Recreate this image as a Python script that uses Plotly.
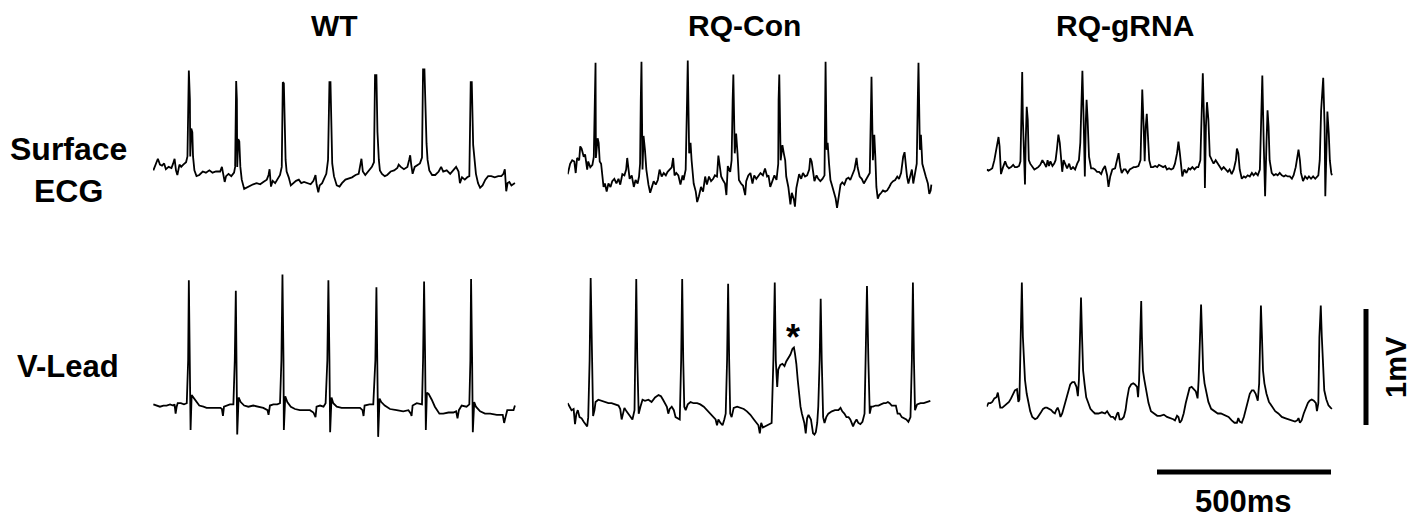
import plotly.graph_objects as go

# ---------------- data: (time ms, voltage mV) ----------------
WT_SURFACE = [
    (1,0.04),(9,0.10),(14,0.14),(20,0.09),(26,0.08),(32,0.10),(37,0.05),(45,0.07),(53,0.06),(58,0.10),
    (62,0.14),(66,0.04),(70,0.00),(76,0.09),(81,0.07),(87,0.09),(95,0.11),(99,0.16),(102,0.70),(103,0.90),
    (106,0.65),(107,0.16),(110,0.40),(113,0.37),(115,0.16),(119,0.04),(125,-0.01),(133,0.00),(143,0.03),(152,0.02),
    (162,0.04),(171,0.02),(181,0.03),(193,0.03),(198,0.07),(202,0.00),(206,-0.06),(210,-0.01),(217,0.01),(225,-0.01),
    (233,0.02),(236,0.07),(239,0.81),(241,0.65),(242,0.07),(245,0.31),(248,0.29),(251,0.07),(255,-0.04),(262,-0.12),
    (269,-0.11),(279,-0.09),(288,-0.08),(298,-0.07),(308,-0.08),(317,-0.06),(327,-0.04),(332,0.00),(335,0.05),(339,-0.10),
    (344,-0.05),(351,-0.07),(357,-0.04),(365,0.00),(370,0.07),(373,0.80),(376,0.79),(378,0.33),(381,0.13),(384,0.03),
    (390,-0.02),(396,-0.09),(403,-0.07),(411,-0.05),(419,-0.04),(426,-0.07),(434,-0.06),(444,-0.07),(453,-0.08),(461,-0.05),
    (467,0.00),(470,-0.08),(475,-0.15),(479,-0.09),(486,-0.07),(492,-0.03),(498,0.01),(503,0.13),(507,0.80),(510,0.80),
    (513,0.30),(515,0.10),(520,-0.01),(528,-0.09),(536,-0.10),(543,-0.07),(553,-0.04),(562,-0.03),(572,-0.02),(582,0.00),
    (591,0.01),(599,0.14),(603,0.03),(610,0.00),(620,0.04),(629,0.07),(635,0.11),(638,0.86),(642,0.86),(645,0.37),
    (649,0.13),(652,0.04),(658,0.01),(666,-0.01),(673,0.00),(683,0.03),(693,0.04),(702,0.06),(706,0.09),(712,0.07),
    (721,0.05),(731,0.07),(736,0.13),(739,0.17),(742,0.09),(746,0.01),(752,0.07),(760,0.09),(767,0.10),(773,0.15),
    (776,0.91),(780,0.91),(783,0.42),(786,0.27),(789,0.13),(794,0.04),(802,0.00),(811,0.00),(821,0.03),(828,0.07),
    (834,0.03),(844,0.04),(854,0.01),(863,0.04),(871,0.07),(878,0.03),(882,-0.07),(888,-0.02),(896,-0.04),(903,-0.02),
    (909,-0.01),(913,0.80),(916,0.80),(920,0.26),(924,0.13),(928,0.01),(934,-0.07),(940,-0.11),(947,-0.09),(955,-0.04),
    (963,-0.01),(972,-0.01),(982,-0.02),(992,-0.01),(1001,-0.01),(1007,0.01),(1011,0.05),(1015,-0.14),(1019,-0.07),(1024,-0.06),
    (1030,-0.09),(1036,-0.08),(1040,-0.07),
]

WT_VLEAD = [
    (1,0.02),(11,0.01),(20,0.00),(30,0.01),(39,0.01),(49,0.02),(58,0.01),(62,0.02),(65,-0.06),(68,0.00),
    (71,0.03),(80,0.03),(89,0.02),(97,0.03),(101,0.40),(103,1.09),(106,0.40),(108,-0.20),(111,0.10),(116,0.08),
    (124,0.04),(133,0.01),(145,0.00),(154,-0.01),(164,-0.01),(173,-0.01),(185,-0.01),(194,-0.01),(198,-0.02),(201,-0.08),
    (204,0.00),(212,0.01),(221,0.02),(231,0.02),(235,0.40),(238,1.00),(240,0.40),(242,-0.24),(246,0.08),(252,0.04),
    (262,0.01),(274,0.00),(288,0.01),(303,0.00),(317,-0.01),(329,-0.03),(332,-0.07),(336,0.01),(346,0.02),(357,0.02),
    (365,0.03),(369,0.40),(372,1.14),(375,0.40),(376,-0.20),(380,0.09),(386,0.04),(396,0.00),(408,-0.02),(422,-0.03),
    (437,-0.03),(451,-0.03),(461,-0.05),(467,-0.09),(470,0.00),(480,0.01),(490,0.00),(496,0.03),(501,0.40),(504,1.09),
    (507,0.40),(509,-0.22),(513,0.08),(518,0.03),(528,0.00),(542,-0.01),(557,-0.01),(576,-0.01),(595,-0.01),(602,-0.03),
    (605,-0.08),(608,0.01),(622,0.02),(633,0.02),(639,0.40),(642,1.03),(645,0.40),(647,-0.26),(651,0.07),(656,0.04),
    (666,0.01),(681,-0.02),(700,-0.03),(719,-0.04),(734,-0.03),(741,-0.06),(743,-0.08),(746,0.01),(758,0.03),(773,0.02),
    (776,0.40),(779,1.08),(782,0.40),(784,-0.20),(787,0.12),(792,0.11),(801,0.06),(810,0.00),(823,-0.06),(834,-0.06),
    (849,-0.05),(863,-0.05),(871,-0.04),(875,-0.10),(879,-0.03),(887,0.01),(901,0.00),(909,0.02),(912,0.40),(914,1.10),
    (917,0.40),(919,-0.22),(923,0.04),(928,0.00),(940,-0.04),(954,-0.06),(969,-0.06),(988,-0.07),(1005,-0.07),(1009,-0.14),
    (1013,-0.09),(1018,-0.03),(1028,-0.03),(1036,-0.03),(1040,0.01),
]

RQCON_SURFACE = [
    (0,0.05),(7,0.14),(13,0.17),(19,0.16),(23,0.06),(27,0.19),(33,0.17),(36,0.29),(40,0.27),(46,0.20),
    (50,0.22),(56,0.09),(59,0.16),(65,0.11),(71,0.13),(75,0.20),(78,0.69),(80,1.01),(81,0.19),(86,0.36),
    (89,0.32),(92,0.16),(96,0.14),(100,0.04),(103,-0.06),(107,-0.03),(112,-0.10),(117,-0.03),(123,-0.06),(128,-0.01),
    (134,0.01),(140,-0.03),(146,0.01),(151,-0.04),(157,0.05),(163,0.04),(168,0.09),(171,0.19),(174,0.09),(178,0.01),
    (184,0.04),(190,-0.06),(195,0.00),(201,-0.03),(205,0.03),(208,0.14),(210,0.69),(212,1.02),(215,0.09),(218,0.38),
    (222,0.26),(226,0.09),(232,-0.04),(237,-0.11),(241,-0.07),(247,-0.01),(253,-0.04),(259,0.00),(264,0.09),(270,0.03),
    (276,0.06),(282,0.04),(287,0.07),(293,0.09),(299,0.11),(303,0.19),(307,0.04),(312,0.06),(318,0.04),(324,-0.04),
    (330,0.04),(333,0.00),(339,0.09),(343,0.69),(345,1.03),(349,0.23),(353,0.32),(356,0.17),(362,-0.03),(368,-0.10),
    (372,-0.19),(377,-0.14),(383,-0.06),(389,-0.10),(395,0.03),(400,-0.04),(406,0.03),(412,-0.01),(418,0.01),(423,0.04),
    (429,0.03),(433,0.21),(437,0.13),(441,0.03),(446,0.00),(452,-0.03),(456,-0.13),(460,0.12),(467,0.07),(471,0.17),
    (474,0.69),(476,0.91),(480,0.23),(484,0.40),(488,0.23),(492,0.00),(498,-0.03),(504,-0.05),(510,-0.13),(513,-0.01),
    (519,0.04),(525,0.06),(531,-0.03),(536,0.04),(542,0.01),(548,0.04),(554,0.06),(561,0.04),(567,0.10),(573,0.03),
    (577,0.04),(582,-0.06),(588,-0.01),(594,0.04),(600,0.00),(605,0.14),(606,0.69),(608,0.91),(612,0.17),(617,0.30),
    (621,0.23),(625,0.17),(628,0.03),(634,-0.06),(640,-0.21),(644,-0.11),(650,-0.17),(653,-0.23),(657,-0.07),(661,0.00),
    (665,0.05),(671,0.01),(676,0.06),(682,0.03),(688,0.04),(694,0.09),(697,0.19),(701,0.16),(705,0.06),(709,-0.01),
    (715,0.04),(720,0.01),(726,-0.01),(732,0.01),(738,0.04),(739,0.69),(741,1.02),(744,0.26),(747,0.32),(751,0.14),
    (755,0.00),(759,-0.04),(764,-0.09),(770,-0.16),(774,-0.24),(778,-0.17),(784,-0.04),(789,-0.02),(795,-0.04),(801,0.01),
    (807,0.02),(812,0.00),(818,0.04),(824,0.09),(830,0.19),(833,0.11),(839,0.03),(845,0.01),(851,-0.03),(856,0.00),
    (862,0.03),(868,0.06),(871,0.55),(873,0.89),(877,0.17),(881,0.39),(884,0.20),(887,-0.06),(891,-0.16),(895,-0.13),
    (901,-0.11),(906,-0.09),(912,-0.10),(918,-0.09),(924,-0.06),(929,-0.03),(935,-0.01),(941,0.00),(947,0.03),(952,0.01),
    (958,0.06),(964,0.20),(968,0.24),(971,0.13),(975,0.03),(979,-0.03),(985,0.06),(989,0.09),(993,-0.03),(998,0.06),
    (1003,0.14),(1006,0.69),(1008,1.01),(1012,0.26),(1015,0.39),(1019,0.14),(1023,0.09),(1029,0.03),(1035,-0.03),(1039,-0.12),
    (1043,-0.09),(1045,-0.04),
]

RQCON_VLEAD = [
    (0,0.03),(6,-0.01),(11,-0.03),(17,-0.02),(21,-0.15),(25,-0.06),(29,-0.03),(34,-0.09),(40,-0.10),(46,-0.13),
    (52,-0.15),(56,-0.17),(59,-0.09),(63,0.40),(66,1.11),(69,0.40),(73,-0.08),(77,-0.03),(80,0.04),(88,0.06),
    (98,0.05),(107,0.04),(117,0.03),(126,0.03),(136,0.02),(146,0.01),(151,-0.02),(155,-0.11),(159,-0.06),(163,-0.01),
    (169,-0.04),(174,-0.06),(180,-0.09),(186,-0.11),(192,-0.03),(194,0.40),(197,1.10),(200,0.40),(204,-0.06),(209,0.00),
    (215,0.06),(222,0.05),(232,0.06),(241,0.04),(251,0.08),(261,0.10),(268,0.09),(274,0.06),(280,0.03),(285,0.00),
    (289,-0.06),(293,-0.02),(299,0.00),(305,-0.03),(310,-0.09),(316,-0.10),(322,-0.11),(326,0.40),(329,1.10),(332,0.40),
    (335,0.00),(339,-0.03),(345,0.02),(353,0.04),(362,0.03),(372,0.03),(381,0.02),(391,0.00),(400,-0.03),(410,-0.06),
    (420,-0.09),(425,-0.11),(429,-0.16),(433,-0.11),(439,-0.14),(445,-0.16),(450,-0.11),(454,-0.06),(458,0.40),(461,1.06),
    (464,0.40),(467,-0.06),(471,-0.09),(477,-0.01),(487,0.00),(496,-0.01),(506,-0.02),(515,-0.04),(525,-0.07),(535,-0.11),
    (542,-0.14),(548,-0.16),(552,-0.23),(556,-0.14),(561,-0.18),(567,-0.17),(577,-0.16),(586,-0.14),(591,0.40),(595,1.07),
    (598,0.40),(602,0.17),(605,0.32),(611,0.36),(617,0.37),(623,0.35),(628,0.39),(634,0.42),(640,0.45),(646,0.50),
    (650,0.51),(653,0.46),(657,0.37),(661,0.23),(665,0.11),(669,0.00),(673,-0.06),(676,-0.09),(680,-0.14),(684,-0.23),
    (688,-0.10),(692,-0.07),(696,-0.09),(699,-0.11),(702,-0.17),(705,-0.23),(709,-0.24),(713,-0.22),(717,-0.14),(720,0.00),
    (724,0.40),(727,0.93),(730,0.40),(734,-0.09),(738,-0.14),(743,-0.09),(749,-0.06),(759,-0.04),(768,-0.03),(778,-0.03),
    (784,-0.01),(789,-0.04),(795,-0.06),(801,-0.09),(807,-0.09),(812,-0.11),(816,-0.14),(820,-0.17),(824,-0.14),(830,-0.11),
    (835,-0.14),(841,-0.15),(847,-0.13),(853,-0.06),(856,0.40),(860,1.04),(864,0.40),(868,-0.06),(872,0.00),(877,0.00),
    (885,0.01),(893,0.01),(900,0.02),(908,0.03),(914,0.03),(920,0.04),(925,0.03),(931,0.01),(937,0.01),(943,0.01),
    (948,-0.06),(954,-0.06),(960,-0.09),(966,-0.10),(973,-0.11),(979,-0.13),(985,-0.09),(989,0.40),(992,1.07),(995,0.40),
    (998,-0.03),(1004,0.02),(1014,0.03),(1023,0.03),(1035,0.04),(1042,0.05),
]

RQGRNA_SURFACE = [
    (0,-0.01),(5,-0.02),(11,-0.01),(16,0.00),(22,0.07),(28,0.19),(34,0.27),(37,0.19),(41,-0.05),(47,0.01),
    (53,0.06),(58,0.02),(64,0.00),(70,0.01),(76,0.03),(81,0.01),(87,0.01),(93,0.02),(97,0.06),(100,0.50),
    (102,0.83),(104,0.42),(107,0.07),(110,-0.14),(112,0.22),(115,0.53),(118,0.42),(121,0.07),(125,0.04),(131,0.01),
    (137,-0.01),(143,0.00),(148,0.01),(154,0.03),(160,0.07),(166,0.04),(171,0.01),(175,0.07),(179,0.02),(183,0.06),
    (189,0.02),(194,0.04),(198,0.07),(202,0.17),(206,0.29),(210,0.22),(214,0.07),(217,-0.03),(221,0.07),(225,0.04),
    (231,0.00),(237,0.04),(242,-0.01),(248,0.01),(254,-0.01),(260,0.04),(265,0.07),(269,0.22),(272,0.65),(275,0.84),
    (279,0.36),(282,-0.07),(285,0.42),(287,0.59),(290,0.42),(294,0.10),(300,0.00),(306,0.00),(311,-0.01),(317,-0.03),
    (323,-0.03),(329,-0.05),(334,-0.01),(340,0.02),(346,-0.06),(350,-0.16),(355,-0.07),(361,-0.01),(369,0.00),(375,0.07),
    (379,0.13),(384,0.01),(388,-0.04),(394,-0.01),(399,-0.01),(405,-0.04),(411,-0.01),(417,0.00),(422,0.01),(428,0.01),
    (436,0.02),(442,0.07),(445,0.36),(447,0.68),(451,0.36),(454,0.06),(457,0.36),(460,0.47),(463,0.30),(467,0.07),
    (472,0.01),(478,0.01),(484,0.02),(490,0.01),(495,0.03),(501,0.02),(507,0.01),(513,0.02),(518,-0.01),(524,0.00),
    (530,-0.01),(536,0.00),(541,0.04),(547,0.13),(551,0.23),(555,0.13),(559,0.01),(562,-0.07),(568,-0.01),(574,-0.04),
    (580,0.00),(585,-0.01),(591,0.01),(597,-0.01),(603,0.01),(608,0.01),(614,0.07),(617,0.50),(621,0.82),(625,0.36),
    (627,-0.17),(630,0.36),(633,0.57),(637,0.42),(641,0.11),(647,0.07),(652,0.04),(658,0.07),(664,0.04),(670,0.01),
    (675,-0.01),(681,0.01),(687,-0.01),(693,-0.03),(698,-0.01),(704,-0.05),(710,-0.01),(716,0.07),(719,0.17),(723,0.13),
    (727,-0.01),(733,-0.09),(739,-0.07),(744,-0.08),(750,-0.06),(756,-0.07),(762,-0.04),(767,-0.06),(773,-0.04),(779,-0.06),
    (785,-0.01),(788,0.36),(792,0.80),(796,0.22),(800,-0.24),(804,0.22),(807,0.50),(810,0.36),(813,0.07),(819,-0.04),
    (825,-0.06),(831,-0.05),(836,-0.06),(842,-0.04),(848,-0.06),(854,-0.07),(859,-0.06),(865,-0.07),(871,-0.07),(877,-0.09),
    (882,-0.06),(888,0.01),(892,0.10),(896,0.16),(900,0.07),(903,-0.04),(909,-0.11),(915,-0.07),(921,-0.09),(926,-0.07),
    (932,-0.09),(938,-0.07),(944,-0.09),(949,-0.07),(953,-0.06),(957,0.07),(961,0.50),(967,0.78),(971,0.36),(973,-0.24),
    (976,0.19),(979,0.49),(983,0.30),(986,0.07),(990,-0.04),(992,-0.06),
]

RQGRNA_VLEAD = [
    (0,0.03),(5,0.06),(11,0.06),(16,0.07),(22,0.10),(28,0.11),(32,0.15),(35,0.10),(39,0.02),(45,0.02),
    (53,0.04),(58,0.06),(64,0.07),(70,0.10),(76,0.14),(81,0.17),(87,0.18),(91,0.07),(94,0.09),(97,0.63),
    (101,1.10),(104,0.63),(107,0.34),(110,0.26),(115,0.14),(120,0.06),(125,-0.01),(131,-0.06),(139,-0.08),(145,-0.07),
    (150,-0.05),(156,-0.02),(162,0.01),(168,0.02),(173,0.02),(179,0.01),(185,0.00),(191,-0.02),(196,-0.03),(200,0.00),
    (204,0.02),(208,-0.01),(212,-0.06),(217,-0.03),(223,0.03),(229,0.09),(235,0.17),(240,0.22),(246,0.24),(252,0.24),
    (258,0.20),(262,0.12),(265,0.26),(268,0.63),(271,0.97),(274,0.63),(277,0.34),(281,0.23),(286,0.11),(292,0.06),
    (298,0.01),(304,-0.01),(311,-0.03),(321,-0.03),(331,-0.02),(340,-0.03),(346,-0.01),(352,-0.04),(357,-0.06),(363,-0.06),
    (369,-0.08),(375,-0.03),(378,-0.02),(382,-0.08),(388,-0.08),(394,-0.06),(399,0.00),(403,0.09),(409,0.19),(415,0.22),
    (421,0.23),(426,0.22),(432,0.20),(435,0.11),(438,0.26),(441,0.63),(444,0.94),(446,0.63),(449,0.34),(453,0.26),
    (459,0.14),(465,0.06),(472,-0.01),(480,-0.03),(490,-0.05),(499,-0.05),(509,-0.04),(518,-0.06),(528,-0.07),(536,-0.08),
    (541,-0.09),(547,-0.05),(551,-0.06),(555,-0.11),(560,-0.09),(566,-0.03),(572,0.06),(578,0.14),(583,0.19),(589,0.20),
    (595,0.18),(601,0.16),(606,0.10),(609,0.26),(613,0.63),(616,0.91),(619,0.63),(622,0.34),(626,0.23),(631,0.14),
    (637,0.07),(645,0.01),(654,-0.01),(664,-0.03),(673,-0.03),(685,-0.05),(695,-0.06),(704,-0.09),(712,-0.11),(719,-0.11),
    (723,-0.07),(727,-0.10),(733,-0.11),(739,-0.06),(744,0.00),(750,0.07),(756,0.14),(762,0.17),(767,0.17),(773,0.14),
    (779,0.08),(783,0.23),(786,0.63),(788,0.90),(791,0.63),(794,0.34),(798,0.23),(804,0.14),(811,0.07),(819,0.03),
    (829,-0.01),(838,-0.03),(848,-0.06),(857,-0.07),(867,-0.08),(877,-0.09),(886,-0.10),(892,-0.09),(896,-0.07),(900,-0.11),
    (905,-0.09),(911,-0.03),(917,0.02),(923,0.06),(928,0.08),(934,0.09),(940,0.08),(946,0.06),(949,-0.01),(953,0.06),
    (956,0.63),(960,0.90),(963,0.63),(967,0.29),(970,0.17),(976,0.09),(982,0.04),(988,0.02),(992,0.01),
]

GROUPS = ["WT", "RQ-Con", "RQ-gRNA"]
ROWS = ["Surface<br>ECG", "V-Lead"]
SCALE_MS = 500
SCALE_MV = 1

# ---------------- layout geometry ----------------
W, H = 1426, 518
PAGE_OFF = 8.0          # the page body margin offsets the figure by this many px
MS_PER_PX = 500 / 174.0
PX_PER_MV = 116.0


def fx(px):
    return (px - PAGE_OFF) / W


def fy(py):
    return 1 - (py - PAGE_OFF) / H


# (trace, left px, baseline px) in page pixels
PANELS = [
    (WT_SURFACE, 153.0, 175.0),
    (RQCON_SURFACE, 567.7, 180.0),
    (RQGRNA_SURFACE, 986.7, 168.3),
    (WT_VLEAD, 153.0, 406.7),
    (RQCON_VLEAD, 567.7, 406.7),
    (RQGRNA_VLEAD, 986.7, 410.0),
]

PANEL_W = 400.0
UP_PX, DOWN_PX = 160.0, 90.0

fig = go.Figure()
layout = dict(
    width=W, height=H, margin=dict(l=0, r=0, t=0, b=0),
    paper_bgcolor="white", plot_bgcolor="rgba(0,0,0,0)", showlegend=False,
)

for i, (trace, x0, base) in enumerate(PANELS, start=1):
    t = [p[0] for p in trace]
    v = [p[1] for p in trace]
    sfx = "" if i == 1 else str(i)
    fig.add_trace(go.Scatter(
        x=t, y=v, mode="lines", line=dict(color="black", width=1.8),
        xaxis="x" + sfx, yaxis="y" + sfx, hoverinfo="skip",
    ))
    layout["xaxis" + sfx] = dict(
        domain=[fx(x0), fx(x0 + PANEL_W)], range=[0, PANEL_W * MS_PER_PX],
        visible=False, fixedrange=True, anchor="y" + sfx,
    )
    layout["yaxis" + sfx] = dict(
        domain=[fy(base + DOWN_PX), fy(base - UP_PX)],
        range=[-DOWN_PX / PX_PER_MV, UP_PX / PX_PER_MV],
        visible=False, fixedrange=True, anchor="x" + sfx,
    )

fig.update_layout(**layout)

# scale bars drawn in the RQ-gRNA V-Lead panel's coordinates
_, gx0, gbase = PANELS[5]
bar_t = (1366 - gx0) * MS_PER_PX
bar_v0 = (gbase - 425) / PX_PER_MV
fig.add_shape(type="line", xref="x6", yref="y6", x0=bar_t, x1=bar_t,
              y0=bar_v0, y1=bar_v0 + SCALE_MV, line=dict(color="black", width=5))
h_t0 = (1157 - gx0) * MS_PER_PX
h_v = (gbase - 472) / PX_PER_MV
fig.add_shape(type="line", xref="x6", yref="y6", x0=h_t0, x1=h_t0 + SCALE_MS,
              y0=h_v, y1=h_v, line=dict(color="black", width=5))

FONT = dict(family="Liberation Sans, Arial, sans-serif", size=30, color="black")


def label(text, px, py, size=30, angle=0):
    fig.add_annotation(
        text="<b>%s</b>" % text, x=fx(px), y=fy(py), xref="paper", yref="paper",
        showarrow=False, xanchor="center", yanchor="middle",
        font=dict(FONT, size=size), textangle=angle,
    )


for g, cx in zip(GROUPS, [334, 744, 1125]):
    label(g, cx, 25, size=30)
label(ROWS[0], 68, 170, size=32)
label(ROWS[1], 68, 366, size=31)
label("%dmV" % SCALE_MV, 1396, 367, size=29, angle=-90)
label("%dms" % SCALE_MS, 1243, 501, size=31)

# asterisk marking the abnormal beat in RQ-Con V-Lead
fig.add_annotation(text="<b>*</b>", x=648, y=0.63, xref="x5", yref="y5",
                   showarrow=False, xanchor="center", yanchor="middle",
                   yshift=-4, font=dict(FONT, size=36))

fig.write_html("out.html")
